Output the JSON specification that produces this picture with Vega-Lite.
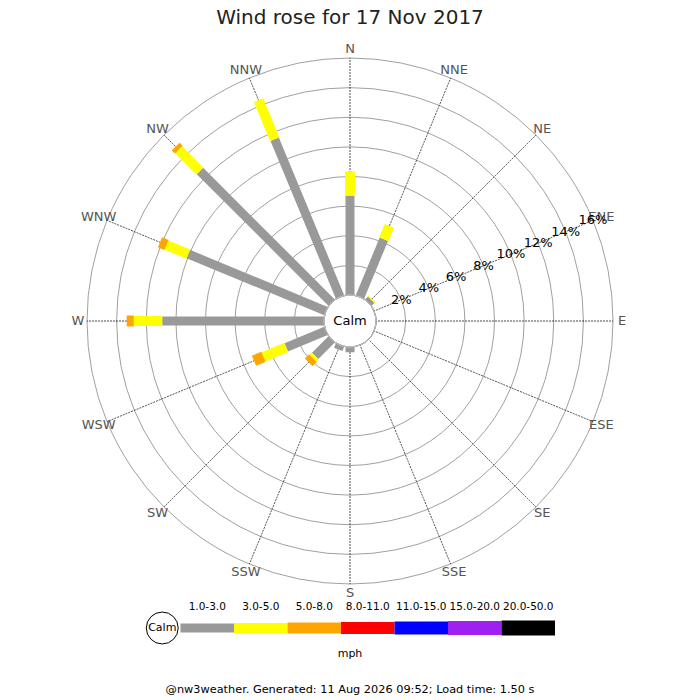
{
  "$schema": "https://vega.github.io/schema/vega-lite/v6.json",
  "background": "white",
  "padding": {"top": 8, "left": 0, "right": 0, "bottom": 0},
  "spacing": 0,
  "config": {"font": "DejaVu Sans", "view": {"stroke": null}},
  "title": {
    "text": "@nw3weather. Generated: 11 Aug 2026 09:52; Load time: 1.50 s",
    "orient": "bottom", "anchor": "middle", "fontSize": 11.3, "fontWeight": "normal",
    "color": "#000", "offset": 25
  },
  "datasets": {
    "rose": [
      {"dir": "N", "deg": 0, "cls": "1.0-3.0", "pct": 6.70},
      {"dir": "N", "deg": 0, "cls": "3.0-5.0", "pct": 1.63},
      {"dir": "NNE", "deg": 22.5, "cls": "1.0-3.0", "pct": 4.22},
      {"dir": "NNE", "deg": 22.5, "cls": "3.0-5.0", "pct": 0.97},
      {"dir": "NE", "deg": 45, "cls": "1.0-3.0", "pct": 0.27},
      {"dir": "NE", "deg": 45, "cls": "3.0-5.0", "pct": 0.08},
      {"dir": "S", "deg": 180, "cls": "1.0-3.0", "pct": 0.36},
      {"dir": "SSW", "deg": 202.5, "cls": "1.0-3.0", "pct": 0.32},
      {"dir": "SW", "deg": 225, "cls": "1.0-3.0", "pct": 1.57},
      {"dir": "SW", "deg": 225, "cls": "3.0-5.0", "pct": 0.22},
      {"dir": "SW", "deg": 225, "cls": "5.0-8.0", "pct": 0.40},
      {"dir": "WSW", "deg": 247.5, "cls": "1.0-3.0", "pct": 2.90},
      {"dir": "WSW", "deg": 247.5, "cls": "3.0-5.0", "pct": 1.67},
      {"dir": "WSW", "deg": 247.5, "cls": "5.0-8.0", "pct": 0.69},
      {"dir": "W", "deg": 270, "cls": "1.0-3.0", "pct": 10.92},
      {"dir": "W", "deg": 270, "cls": "3.0-5.0", "pct": 1.92},
      {"dir": "W", "deg": 270, "cls": "5.0-8.0", "pct": 0.48},
      {"dir": "WNW", "deg": 292.5, "cls": "1.0-3.0", "pct": 10.06},
      {"dir": "WNW", "deg": 292.5, "cls": "3.0-5.0", "pct": 1.59},
      {"dir": "WNW", "deg": 292.5, "cls": "5.0-8.0", "pct": 0.48},
      {"dir": "NW", "deg": 315, "cls": "1.0-3.0", "pct": 12.57},
      {"dir": "NW", "deg": 315, "cls": "3.0-5.0", "pct": 2.03},
      {"dir": "NW", "deg": 315, "cls": "5.0-8.0", "pct": 0.29},
      {"dir": "NNW", "deg": 337.5, "cls": "1.0-3.0", "pct": 11.53},
      {"dir": "NNW", "deg": 337.5, "cls": "3.0-5.0", "pct": 2.85}
    ],
    "dirs": [
      {"dir": "N", "deg": 0}, {"dir": "NNE", "deg": 22.5}, {"dir": "NE", "deg": 45},
      {"dir": "ENE", "deg": 67.5}, {"dir": "E", "deg": 90}, {"dir": "ESE", "deg": 112.5},
      {"dir": "SE", "deg": 135}, {"dir": "SSE", "deg": 157.5}, {"dir": "S", "deg": 180},
      {"dir": "SSW", "deg": 202.5}, {"dir": "SW", "deg": 225}, {"dir": "WSW", "deg": 247.5},
      {"dir": "W", "deg": 270}, {"dir": "WNW", "deg": 292.5}, {"dir": "NW", "deg": 315},
      {"dir": "NNW", "deg": 337.5}
    ],
    "rings": [
      {"pct": 2, "lab": "2%"}, {"pct": 4, "lab": "4%"}, {"pct": 6, "lab": "6%"},
      {"pct": 8, "lab": "8%"}, {"pct": 10, "lab": "10%"}, {"pct": 12, "lab": "12%"},
      {"pct": 14, "lab": "14%"}, {"pct": 16, "lab": "16%"}
    ],
    "classes": [
      {"cls": "Calm"}, {"cls": "1.0-3.0"}, {"cls": "3.0-5.0"}, {"cls": "5.0-8.0"},
      {"cls": "8.0-11.0"}, {"cls": "11.0-15.0"}, {"cls": "15.0-20.0"}, {"cls": "20.0-50.0"}
    ]
  },
  "vconcat": [
    {
      "width": 700,
      "height": 560,
      "title": {
        "text": "Wind rose for 17 Nov 2017", "fontSize": 20, "fontWeight": "normal",
        "color": "#222", "anchor": "middle", "offset": 13
      },
      "layer": [
        {
          "data": {"name": "rings"},
          "mark": {"type": "arc", "theta": 0, "theta2": 6.2832, "filled": false, "stroke": "#a0a0a0", "strokeWidth": 1},
          "encoding": {
            "radius": {"field": "pct", "type": "quantitative", "stack": null,
              "scale": {"type": "linear", "domain": [0, 16], "range": [26, 263]}}
          }
        },
        {
          "data": {"name": "dirs"},
          "mark": {"type": "arc", "filled": false, "stroke": "#000", "strokeWidth": 0.7, "strokeDash": [1, 2]},
          "encoding": {
            "theta": {"field": "deg", "type": "quantitative", "stack": null,
              "scale": {"type": "linear", "domain": [0, 360], "range": [0, 6.283185]}},
            "theta2": {"field": "deg"},
            "radius": {"datum": 16, "type": "quantitative"},
            "radius2": {"datum": 0}
          }
        },
        {
          "data": {"name": "rose"},
          "mark": {"type": "arc", "filled": false, "strokeJoin": "bevel"},
          "encoding": {
            "theta": {"field": "deg", "type": "quantitative", "stack": null},
            "theta2": {"field": "deg"},
            "radius": {"field": "pct", "type": "quantitative", "stack": "zero"},
            "stroke": {"field": "cls", "type": "nominal", "legend": null,
              "scale": {"domain": ["1.0-3.0", "3.0-5.0", "5.0-8.0", "8.0-11.0", "11.0-15.0", "15.0-20.0", "20.0-50.0"],
                "range": ["#999999", "#ffff00", "#ffa500", "#ff0000", "#0000ff", "#a020f0", "#000000"]}},
            "strokeWidth": {"field": "cls", "type": "ordinal", "legend": null,
              "scale": {"domain": ["1.0-3.0", "3.0-5.0", "5.0-8.0", "8.0-11.0", "11.0-15.0", "15.0-20.0", "20.0-50.0"],
                "range": [9, 15, 21, 23, 25, 27, 29]}}
          }
        },
        {
          "data": {"values": [{"label": "Calm"}]},
          "mark": {"type": "arc", "theta": 0, "theta2": 6.2832, "fill": "white", "stroke": "#bbbbbb", "strokeWidth": 1},
          "encoding": {"radius": {"datum": 0, "type": "quantitative"}}
        },
        {
          "data": {"values": [{"label": "Calm"}]},
          "mark": {"type": "text", "fontSize": 13, "color": "#000", "align": "center", "baseline": "middle"},
          "encoding": {"text": {"field": "label"}}
        },
        {
          "data": {"name": "dirs"},
          "mark": {"type": "text", "fontSize": 13, "color": "#555", "align": "center", "baseline": "middle", "radiusOffset": 9},
          "encoding": {
            "theta": {"field": "deg", "type": "quantitative", "stack": null},
            "radius": {"datum": 16, "type": "quantitative"},
            "text": {"field": "dir"}
          }
        },
        {
          "data": {"name": "rings"},
          "mark": {"type": "text", "fontSize": 13, "color": "#000", "align": "center", "baseline": "middle"},
          "encoding": {
            "theta": {"datum": 67.5, "type": "quantitative"},
            "radius": {"field": "pct", "type": "quantitative", "stack": null},
            "text": {"field": "lab"}
          }
        }
      ]
    },
    {
      "width": 700,
      "height": 26,
      "data": {"name": "classes"},
      "title": {"text": "mph", "orient": "bottom", "anchor": "middle", "fontSize": 11, "fontWeight": "normal", "color": "#000", "offset": 2},
      "layer": [
        {
          "transform": [{"filter": "datum.cls != 'Calm'"}],
          "mark": {"type": "rule"},
          "encoding": {
            "x": {"field": "cls", "type": "nominal", "sort": null, "bandPosition": 0,
              "scale": {"type": "band", "domain": ["Calm", "1.0-3.0", "3.0-5.0", "5.0-8.0", "8.0-11.0", "11.0-15.0", "15.0-20.0", "20.0-50.0"],
                "range": [127, 555], "paddingInner": 0, "paddingOuter": 0},
              "axis": {"orient": "top", "title": null, "domain": false, "ticks": false, "labelAngle": 0,
                "labelFontSize": 10.5, "labelPadding": 4, "labelColor": "#000", "labelOverlap": false,
                "labelExpr": "datum.value == 'Calm' ? '' : datum.value"}},
            "x2": {"field": "cls", "bandPosition": 1},
            "stroke": {"field": "cls", "type": "nominal", "legend": null,
              "scale": {"domain": ["1.0-3.0", "3.0-5.0", "5.0-8.0", "8.0-11.0", "11.0-15.0", "15.0-20.0", "20.0-50.0"],
                "range": ["#999999", "#ffff00", "#ffa500", "#ff0000", "#0000ff", "#a020f0", "#000000"]}},
            "strokeWidth": {"field": "cls", "type": "ordinal", "legend": null,
              "scale": {"domain": ["1.0-3.0", "3.0-5.0", "5.0-8.0", "8.0-11.0", "11.0-15.0", "15.0-20.0", "20.0-50.0"],
                "range": [8, 15, 21, 23, 25, 27, 29]}}
          }
        },
        {
          "transform": [{"filter": "datum.cls == 'Calm'"}],
          "mark": {"type": "point", "shape": "circle", "size": 1018, "filled": true, "fill": "white", "stroke": "#000", "strokeWidth": 1, "opacity": 1, "xOffset": 8.5},
          "encoding": {"x": {"field": "cls", "type": "nominal", "sort": null}}
        },
        {
          "transform": [{"filter": "datum.cls == 'Calm'"}],
          "mark": {"type": "text", "fontSize": 11, "color": "#000", "xOffset": 8.5},
          "encoding": {"x": {"field": "cls", "type": "nominal", "sort": null}, "text": {"field": "cls"}}
        }
      ]
    }
  ]
}
